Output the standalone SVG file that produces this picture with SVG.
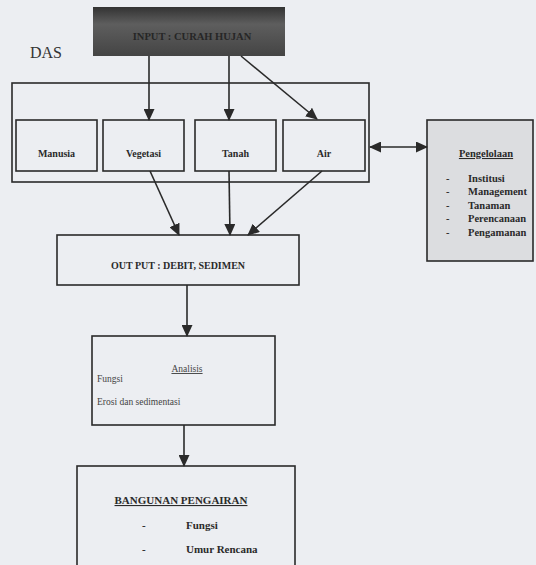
<svg xmlns="http://www.w3.org/2000/svg" width="536" height="565" viewBox="0 0 536 565">
<defs>
<style>
.bx{fill:none;stroke:#2a2a2a;stroke-width:1.6}
.ln{fill:none;stroke:#2a2a2a;stroke-width:1.6}
.lb{font-family:"Liberation Serif",serif;font-weight:bold;font-size:10px;fill:#2a2a2a}
.pg{font-family:"Liberation Serif",serif;font-weight:bold;font-size:10.5px;fill:#2a2a2a}
.bg{font-family:"Liberation Serif",serif;font-weight:bold;font-size:11px;fill:#2a2a2a}
.sm{font-family:"Liberation Serif",serif;font-size:9.5px;fill:#444}
</style>
<marker id="ah" markerUnits="userSpaceOnUse" markerWidth="12" markerHeight="11" viewBox="0 0 12 11" refX="11" refY="5.5" orient="auto-start-reverse">
<path d="M0,0 L12,5.5 L0,11 z" fill="#2a2a2a"/>
</marker>
<linearGradient id="dk" x1="0" y1="0" x2="0" y2="1">
<stop offset="0" stop-color="#333"/>
<stop offset="0.35" stop-color="#5e5e5e"/>
<stop offset="1" stop-color="#444"/>
</linearGradient>
</defs>
<rect width="536" height="565" fill="#eceef2"/>
<text x="30" y="58" font-family="Liberation Serif,serif" font-size="16" fill="#333">DAS</text>
<g id="input">
<rect x="93" y="7" width="192" height="49" fill="url(#dk)"/>
<text x="192" y="40" text-anchor="middle" font-family="Liberation Serif,serif" font-size="10.5" font-weight="bold" fill="#262626">INPUT : CURAH HUJAN</text>
</g>
<g id="das">
<rect class="bx" x="12" y="83" width="357" height="99"/>
</g>
<g id="manusia"><rect class="bx" x="16" y="120" width="81" height="51"/><text class="lb" x="56.5" y="157" text-anchor="middle">Manusia</text></g>
<g id="vegetasi"><rect class="bx" x="103" y="120" width="81" height="51"/><text class="lb" x="143.5" y="157" text-anchor="middle">Vegetasi</text></g>
<g id="tanah"><rect class="bx" x="195" y="120" width="81" height="51"/><text class="lb" x="235.5" y="157" text-anchor="middle">Tanah</text></g>
<g id="air"><rect class="bx" x="283" y="120" width="82" height="51"/><text class="lb" x="324" y="157" text-anchor="middle">Air</text></g>
<g id="pengelolaan">
<rect x="427" y="120" width="106" height="141" fill="#dcdde0" stroke="#2a2a2a" stroke-width="1.6"/>
<text class="pg" x="486" y="157" text-anchor="middle" text-decoration="underline">Pengelolaan</text>
<g class="pg">
<text x="446" y="182">-</text><text x="468" y="182">Institusi</text>
<text x="446" y="195">-</text><text x="468" y="195">Management</text>
<text x="446" y="209">-</text><text x="468" y="209">Tanaman</text>
<text x="446" y="222">-</text><text x="468" y="222">Perencanaan</text>
<text x="446" y="236">-</text><text x="468" y="236">Pengamanan</text>
</g>
</g>
<g id="output">
<rect class="bx" x="57" y="235" width="242" height="50"/>
<text class="lb" x="178" y="269" text-anchor="middle">OUT PUT : DEBIT, SEDIMEN</text>
</g>
<g id="analisis">
<rect class="bx" x="92" y="336" width="183" height="89"/>
<text class="sm" x="187" y="372" text-anchor="middle" text-decoration="underline">Analisis</text>
<text class="sm" x="97" y="382">Fungsi</text>
<text class="sm" x="97" y="405">Erosi dan sedimentasi</text>
</g>
<g id="bangunan">
<rect class="bx" x="77" y="466" width="218" height="110"/>
<text class="bg" x="181" y="504" text-anchor="middle" text-decoration="underline">BANGUNAN PENGAIRAN</text>
<text class="bg" x="142" y="529">-</text><text class="bg" x="186" y="529">Fungsi</text>
<text class="bg" x="142" y="553">-</text><text class="bg" x="186" y="553">Umur Rencana</text>
</g>
<g id="connectors">
<line class="ln" x1="149" y1="56" x2="149" y2="120" marker-end="url(#ah)"/>
<line class="ln" x1="229" y1="56" x2="229" y2="120" marker-end="url(#ah)"/>
<line class="ln" x1="241" y1="56" x2="317" y2="119" marker-end="url(#ah)"/>
<line class="ln" x1="370" y1="147" x2="427" y2="147" marker-start="url(#ah)" marker-end="url(#ah)"/>
<line class="ln" x1="150" y1="171" x2="179" y2="235" marker-end="url(#ah)"/>
<line class="ln" x1="229" y1="171" x2="230" y2="235" marker-end="url(#ah)"/>
<line class="ln" x1="322" y1="171" x2="248" y2="235" marker-end="url(#ah)"/>
<line class="ln" x1="187" y1="285" x2="187" y2="336" marker-end="url(#ah)"/>
<line class="ln" x1="184" y1="425" x2="184" y2="466" marker-end="url(#ah)"/>
</g>
</svg>
